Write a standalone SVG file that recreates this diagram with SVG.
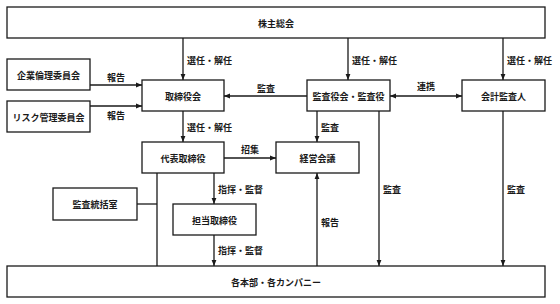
<svg xmlns="http://www.w3.org/2000/svg" width="560" height="304" viewBox="0 0 560 304">
<style>
rect.n{fill:#fff;stroke:#1a1a1a;stroke-width:1.3}
text{font-family:"Noto Sans CJK JP","Noto Sans CJK SC",sans-serif;font-size:9px;font-weight:bold;fill:#1a1a1a}
.c{text-anchor:middle;dominant-baseline:central}
.l{dominant-baseline:central}
.e line{stroke:#1a1a1a;stroke-width:1.3}
</style>
<defs>
<marker id="a" viewBox="0 0 10 10" refX="10" refY="5" markerWidth="6" markerHeight="6" orient="auto-start-reverse" markerUnits="userSpaceOnUse">
<path d="M0,1 L10,5 L0,9 Z" fill="#1a1a1a"/>
</marker>
</defs>
<rect width="560" height="304" fill="#fff"/>
<g class="e" id="connectors">
<line x1="183" y1="38" x2="183" y2="80" marker-end="url(#a)"/>
<line x1="348" y1="38" x2="348" y2="80" marker-end="url(#a)"/>
<line x1="503" y1="38" x2="503" y2="80" marker-end="url(#a)"/>
<line x1="90" y1="85" x2="142" y2="85" marker-end="url(#a)"/>
<line x1="90" y1="106" x2="142" y2="106" marker-end="url(#a)"/>
<line x1="307" y1="96" x2="224" y2="96" marker-end="url(#a)"/>
<line x1="390" y1="96" x2="462" y2="96" marker-start="url(#a)" marker-end="url(#a)"/>
<line x1="183" y1="111" x2="183" y2="142" marker-end="url(#a)"/>
<line x1="317" y1="111" x2="317" y2="142" marker-end="url(#a)"/>
<line x1="379" y1="111" x2="379" y2="266" marker-end="url(#a)"/>
<line x1="503" y1="111" x2="503" y2="266" marker-end="url(#a)"/>
<line x1="224" y1="158" x2="276" y2="158" marker-end="url(#a)"/>
<line x1="317" y1="266" x2="317" y2="173" marker-end="url(#a)"/>
<line x1="157" y1="173" x2="157" y2="266"/>
<line x1="137" y1="204" x2="157" y2="204"/>
<line x1="214" y1="173" x2="214" y2="204" marker-end="url(#a)"/>
<line x1="214" y1="235" x2="214" y2="266" marker-end="url(#a)"/>
</g>
<g id="labels">
<text class="l" x="187" y="60">選任・解任</text>
<text class="l" x="352" y="60">選任・解任</text>
<text class="l" x="507" y="60">選任・解任</text>
<text class="l" x="107" y="77">報告</text>
<text class="l" x="107" y="115">報告</text>
<text class="l" x="257" y="88">監査</text>
<text class="l" x="417" y="86">連携</text>
<text class="l" x="187" y="127">選任・解任</text>
<text class="l" x="321" y="127">監査</text>
<text class="l" x="241" y="149">招集</text>
<text class="l" x="218" y="189">指揮・監督</text>
<text class="l" x="218" y="250">指揮・監督</text>
<text class="l" x="321" y="222">報告</text>
<text class="l" x="383" y="189">監査</text>
<text class="l" x="507" y="189">監査</text>
</g>
<g id="n-shareholders"><rect class="n" x="7" y="7" width="538" height="31"/><text class="c" x="276" y="23">株主総会</text></g>
<g id="n-ethics"><rect class="n" x="7" y="59" width="83" height="31"/><text class="c" x="48.5" y="75">企業倫理委員会</text></g>
<g id="n-risk"><rect class="n" x="7" y="101" width="83" height="31"/><text class="c" x="48.5" y="117">リスク管理委員会</text></g>
<g id="n-board"><rect class="n" x="142" y="80" width="82" height="31"/><text class="c" x="183" y="96">取締役会</text></g>
<g id="n-auditors"><rect class="n" x="307" y="80" width="83" height="31"/><text class="c" x="348.5" y="96">監査役会・監査役</text></g>
<g id="n-accounting"><rect class="n" x="462" y="80" width="83" height="31"/><text class="c" x="503.5" y="96">会計監査人</text></g>
<g id="n-ceo"><rect class="n" x="142" y="142" width="82" height="31"/><text class="c" x="183" y="158">代表取締役</text></g>
<g id="n-mgmt"><rect class="n" x="276" y="142" width="83" height="31"/><text class="c" x="317.5" y="158">経営会議</text></g>
<g id="n-audit-office"><rect class="n" x="53" y="188" width="84" height="32"/><text class="c" x="95" y="204">監査統括室</text></g>
<g id="n-director"><rect class="n" x="173" y="204" width="83" height="31"/><text class="c" x="214.5" y="220">担当取締役</text></g>
<g id="n-divisions"><rect class="n" x="7" y="266" width="538" height="31"/><text class="c" x="276" y="282">各本部・各カンパニー</text></g>
</svg>
